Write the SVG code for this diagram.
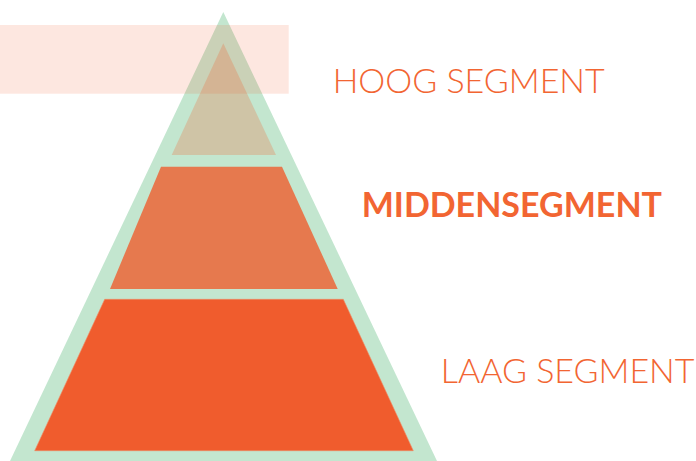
<svg xmlns="http://www.w3.org/2000/svg" width="696" height="461" viewBox="0 0 696 461">
<style>
.lbl{fill:#f26532;font-family:Lato,"Liberation Sans",sans-serif;font-size:34px}
.light{font-weight:300}
.bold{font-weight:700}
</style>
<rect width="696" height="461" fill="#ffffff"/>
<g id="pyramid">
<polygon points="223.3,12 10,461 437,461" fill="#c3e6cf"/>
</g>
<g id="laag">
<polygon points="104.7,299.3 343.3,299.3 413.3,450.7 34.7,450.7" fill="#f05c2d" stroke="#f08a63" stroke-width="0.6"/>
<text class="lbl light" x="440.7" y="383.3">LAAG SEGMENT</text>
</g>
<g id="midden">
<polygon points="161,166.7 282,166.7 337.7,289 110,289" fill="#e6794e"/>
<text class="lbl bold" x="361.7" y="216.7">MIDDENSEGMENT</text>
</g>
<g id="hoog">
<polygon points="223.3,43.3 276,155 171.7,155" fill="#cfc4a6"/>
<rect x="0" y="25" width="288.7" height="68.7" fill="#f05c2d" fill-opacity="0.15"/>
<text class="lbl light" x="332.7" y="92.7">HOOG SEGMENT</text>
</g>
<g id="connectors"/>
</svg>
